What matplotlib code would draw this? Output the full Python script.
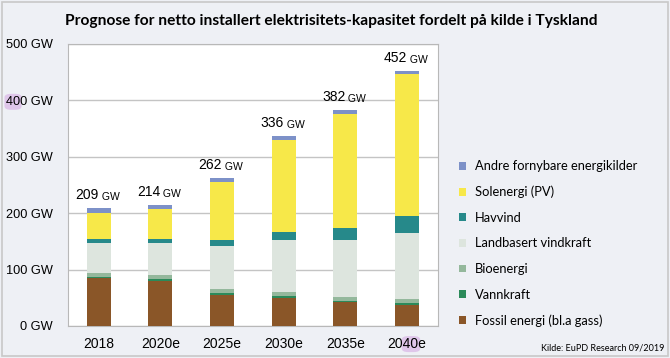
import matplotlib.pyplot as plt
from matplotlib.patches import FancyBboxPatch
import numpy as np

years = ['2018', '2020e', '2025e', '2030e', '2035e', '2040e']
totals = [209, 214, 262, 336, 382, 452]

# GW per source, bottom to top
fossil = [85, 80, 55, 50, 42, 38]
vann = [2, 3, 3, 3, 3, 3]
bio = [7, 7, 8, 7, 7, 7]
land = [53, 57, 76, 92, 101, 116]
havvind = [7, 8, 10, 15, 20, 31]
sol = [47, 53, 103, 163, 203, 251]
andre = [8, 6, 7, 6, 6, 6]

series = [
    ('Fossil energi (bl.a gass)', fossil, '#8a5628'),
    ('Vannkraft', vann, '#2b8a5a'),
    ('Bioenergi', bio, '#94b89c'),
    ('Landbasert vindkraft', land, '#dde5de'),
    ('Havvind', havvind, '#26898a'),
    ('Solenergi (PV)', sol, '#f7e849'),
    ('Andre fornybare energikilder', andre, '#7d91c8'),
]

bg = '#eef0f5'
fig = plt.figure(figsize=(6.7, 3.58), dpi=100, facecolor=bg)
ax = fig.add_axes([0.1015, 0.0894, 0.552, 0.788])
ax.set_facecolor('white')

x = np.arange(len(years))
bottom = np.zeros(len(years))
handles = []
for name, vals, col in series:
    b = ax.bar(x, vals, width=0.39, bottom=bottom, color=col, zorder=3, label=name)
    handles.append(b)
    bottom += np.array(vals)

for xi, t, top in zip(x, totals, bottom):
    ax.annotate(str(t), (xi, top), xytext=(0, 4.5), textcoords='offset points',
                ha='right', va='bottom', fontsize=10, family='Liberation Sans')
    ax.annotate(' GW', (xi, top), xytext=(0, 4.5), textcoords='offset points',
                ha='left', va='bottom', fontsize=7.5, family='Liberation Sans')

ax.set_xlim(-0.5, 5.5)
ax.set_ylim(0, 500)
yt = [0, 100, 200, 300, 400, 500]
ax.set_yticks(yt)
ax.set_yticklabels([f'{v} GW' for v in yt], family='Liberation Sans', fontsize=9.2)
ax.set_xticks(x)
ax.set_xticklabels(years, family='Liberation Sans', fontsize=10)
ax.tick_params(length=0)
ax.tick_params(axis='y', pad=11)
ax.tick_params(axis='x', pad=8)
ax.yaxis.grid(True, color='#c4c4c4', lw=1, zorder=0)
for s in ax.spines.values():
    s.set_color('#b8b8b8')
    s.set_linewidth(0.8)

fig.legend(handles[::-1], [s[0] for s in series][::-1], loc='upper left',
           bbox_to_anchor=(0.667, 0.585), frameon=False,
           prop={'family': 'Lato', 'size': 9.3}, handlelength=0.55,
           handleheight=0.55, handletextpad=0.75, labelspacing=1.05)

fig.text(0.494, 0.94, 'Prognose for netto installert elektrisitets-kapasitet fordelt på kilde i Tyskland',
         ha='center', va='center', fontsize=11.2, fontweight='bold', family='Lato')
fig.text(0.992, 0.028, 'Kilde: EuPD Research 09/2019', ha='right', va='center',
         fontsize=6.5, family='Lato')

border = plt.Rectangle((0.003, 0.006), 0.994, 0.988, transform=fig.transFigure,
                       fill=False, ec='#c8c8c8', lw=1.2)
fig.patches.append(border)

# pink highlight behind the "40" in "400 GW" and "2040e"
fig.canvas.draw()
renderer = fig.canvas.get_renderer()


def highlight(label, prefix):
    bb = label.get_window_extent(renderer)
    tmp = fig.text(0, 0, prefix, fontproperties=label.get_fontproperties())
    w0 = tmp.get_window_extent(renderer).width
    tmp.set_text(prefix + '40')
    w1 = tmp.get_window_extent(renderer).width
    tmp.remove()
    x0 = bb.x0 + w0 - 1.5
    x1 = bb.x0 + w1 + 1.5
    cy = (bb.y0 + bb.y1) / 2
    p = FancyBboxPatch((x0 / 670, (cy - 8) / 358), (x1 - x0) / 670, 16 / 358,
                       boxstyle='round,pad=0,rounding_size=0.01',
                       transform=fig.transFigure, fc='#dfc6ea', ec='none',
                       zorder=-1)
    fig.patches.append(p)


highlight(ax.get_yticklabels()[4], '')
highlight(ax.get_xticklabels()[5], '20')

fig.savefig('out.png', dpi=100, facecolor=bg)
